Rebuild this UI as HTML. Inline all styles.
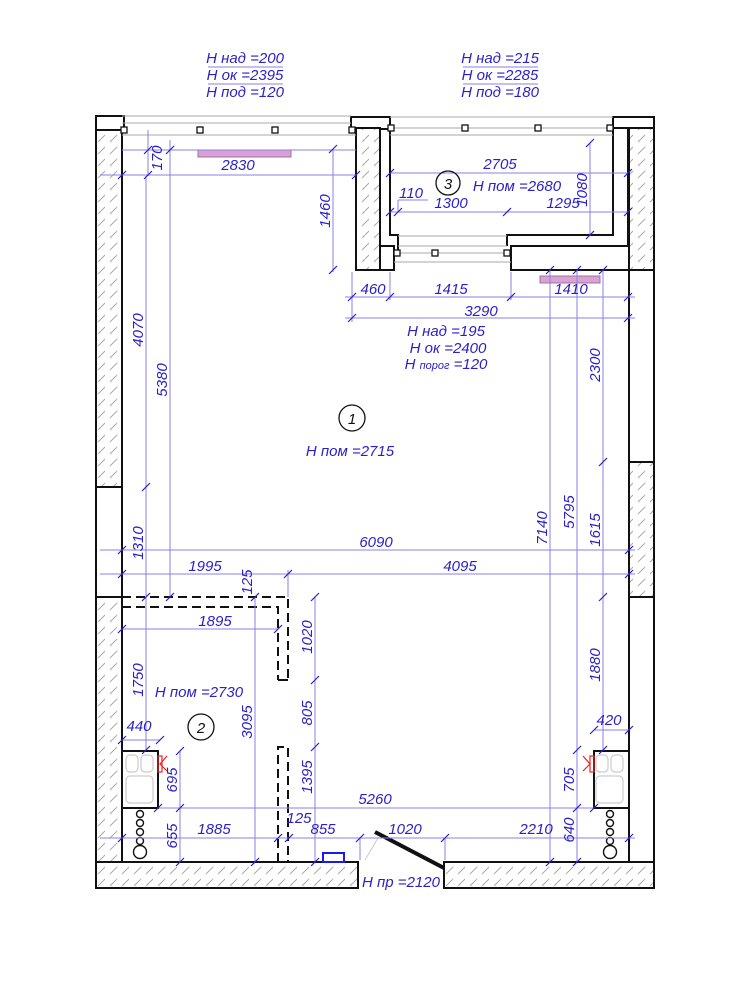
<!DOCTYPE html>
<html><head><meta charset="utf-8"><style>
html,body{margin:0;padding:0;background:#fff}
svg{display:block}
text{font-family:"Liberation Sans","DejaVu Sans",sans-serif;font-style:italic;fill:#2a1fc8;font-size:15px}
.d{stroke:#8a80ea;stroke-width:1;fill:none}
.t{stroke:#2a1fc4;stroke-width:1.2}
.w{stroke:#111;stroke-width:2;fill:#fff}
.h{stroke:#111;stroke-width:2;fill:url(#hat)}
.g{stroke:#aaa;stroke-width:1;fill:none}
</style></head><body>
<svg width="750" height="1000" viewBox="0 0 750 1000" xmlns="http://www.w3.org/2000/svg">
<defs>
<pattern id="hat" width="12" height="12" patternUnits="userSpaceOnUse">
<rect width="12" height="12" fill="#fff"/><line x1="2" y1="10" x2="9" y2="3" stroke="#aaa" stroke-width="1"/>
</pattern>
</defs>

<rect class="h" x="96" y="130" width="26" height="357"/>
<rect class="w" x="96" y="487" width="26" height="110"/>
<rect class="h" x="96" y="597" width="26" height="291"/>
<rect class="h" x="96" y="862" width="262" height="26"/>
<rect class="h" x="444" y="862" width="210" height="26"/>
<rect class="h" x="629" y="128" width="25" height="142"/>
<rect class="w" x="629" y="270" width="25" height="192"/>
<rect class="h" x="629" y="462" width="25" height="135"/>
<rect class="w" x="629" y="597" width="25" height="265"/>
<line x1="122" y1="130" x2="122" y2="862" stroke="#111" stroke-width="2"/>
<rect class="w" x="96" y="116" width="28" height="14"/>
<rect class="w" x="351" y="117" width="39" height="12"/>
<rect class="w" x="613" y="117" width="41" height="11"/>
<rect class="h" x="356" y="128" width="24" height="142"/>
<rect class="w" x="380" y="246" width="14" height="24"/>
<polyline points="390,128 390,235 398,235 398,250" fill="none" stroke="#111" stroke-width="2"/>
<polyline points="613,128 613,235 507,235 507,246" fill="none" stroke="#111" stroke-width="2"/>
<line x1="628" y1="128" x2="628" y2="270" stroke="#111" stroke-width="2"/>
<rect class="w" x="511" y="246" width="118" height="24"/>
<line class="g" x1="122" y1="116" x2="351" y2="116"/>
<line class="g" x1="122" y1="123" x2="351" y2="123"/>
<line class="g" x1="122" y1="135" x2="356" y2="135"/>
<line class="g" x1="390" y1="117" x2="613" y2="117"/>
<line class="g" x1="390" y1="128" x2="613" y2="128"/>
<line class="g" x1="390" y1="135" x2="613" y2="135"/>
<line class="g" x1="398" y1="236" x2="507" y2="236"/>
<line class="g" x1="398" y1="246" x2="507" y2="246"/>
<line class="g" x1="398" y1="253" x2="507" y2="253"/>
<line class="g" x1="394" y1="262" x2="511" y2="262"/>
<g fill="#fff" stroke="#111" stroke-width="1.3">
<rect x="121" y="127" width="6" height="6"/><rect x="197" y="127" width="6" height="6"/><rect x="272" y="127" width="6" height="6"/><rect x="349" y="127" width="6" height="6"/>
<rect x="388" y="125" width="6" height="6"/><rect x="462" y="125" width="6" height="6"/><rect x="535" y="125" width="6" height="6"/><rect x="607" y="125" width="6" height="6"/>
<rect x="394" y="250" width="6" height="6"/><rect x="432" y="250" width="6" height="6"/><rect x="504" y="250" width="6" height="6"/>
</g>
<rect x="198" y="150" width="93" height="7" fill="#d8a2d2" stroke="#a070a0"/>
<rect x="540" y="276" width="60" height="7" fill="#d8a2d2" stroke="#a070a0"/>
<g stroke="#111" stroke-width="2" fill="none" stroke-dasharray="9,5">
<polyline points="122,597 288,597 288,680"/>
<polyline points="122,607 278,607 278,680"/>
<polyline points="278,862 278,747 288,747 288,862"/>
</g>
<line x1="278" y1="680" x2="288" y2="680" stroke="#111" stroke-width="2"/>
<line x1="375" y1="832" x2="444" y2="868" stroke="#111" stroke-width="4"/>
<line x1="365" y1="860" x2="378" y2="838" stroke="#ccc" stroke-width="1"/>
<rect x="323" y="853" width="21" height="9" fill="#fff" stroke="#1a1aee" stroke-width="2"/>
<rect x="122" y="751" width="36" height="57" fill="#fff" stroke="#111" stroke-width="2"/>
<g fill="none" stroke="#ccc" stroke-width="1.2"><rect x="126" y="755" width="12" height="17" rx="4"/><rect x="141" y="755" width="12" height="17" rx="4"/><rect x="126" y="776" width="27" height="27" rx="4"/>
<rect x="596" y="755" width="12" height="17" rx="4"/><rect x="611" y="755" width="12" height="17" rx="4"/><rect x="596" y="776" width="27" height="27" rx="4"/></g>
<rect x="158" y="756" width="4" height="16" fill="none" stroke="#e22" stroke-width="1.2"/>
<polyline points="167,756 160,764 167,771" fill="none" stroke="#e22" stroke-width="1.2"/>
<g fill="#fff" stroke="#111" stroke-width="1.4"><circle cx="140" cy="814" r="3.5"/><circle cx="140" cy="823" r="3.5"/><circle cx="140" cy="832" r="3.5"/><circle cx="140" cy="841" r="3.5"/><circle cx="140" cy="852" r="6.5"/>
<circle cx="610" cy="814" r="3.5"/><circle cx="610" cy="823" r="3.5"/><circle cx="610" cy="832" r="3.5"/><circle cx="610" cy="841" r="3.5"/><circle cx="610" cy="852" r="6.5"/></g>
<rect x="594" y="751" width="35" height="57" fill="none" stroke="#111" stroke-width="2"/>
<rect x="590" y="756" width="4" height="16" fill="none" stroke="#e22" stroke-width="1.2"/>
<polyline points="583,756 590,764 583,771" fill="none" stroke="#e22" stroke-width="1.2"/>

<g class="d">
<line x1="100" y1="175" x2="356" y2="175"/>
<line x1="122" y1="150" x2="356" y2="150"/>
<line x1="148" y1="130" x2="148" y2="176"/>
<line x1="146" y1="176" x2="146" y2="750"/>
<line x1="170" y1="140" x2="170" y2="597"/>
<line x1="333" y1="149" x2="333" y2="272"/>
<line x1="390" y1="173" x2="628" y2="173"/>
<line x1="390" y1="212" x2="628" y2="212"/>
<line x1="590" y1="143" x2="590" y2="236"/>
<line x1="352" y1="272" x2="352" y2="322"/>
<line x1="390" y1="272" x2="390" y2="300"/>
<line x1="511" y1="272" x2="511" y2="300"/>
<line x1="345" y1="297" x2="635" y2="297"/>
<line x1="345" y1="318" x2="635" y2="318"/>
<line x1="550" y1="270" x2="550" y2="862"/>
<line x1="577" y1="270" x2="577" y2="862"/>
<line x1="603" y1="270" x2="603" y2="750"/>
<line x1="100" y1="550" x2="635" y2="550"/>
<line x1="100" y1="574" x2="635" y2="574"/>
<line x1="288" y1="570" x2="288" y2="597"/>
<line x1="122" y1="629" x2="278" y2="629"/>
<line x1="255" y1="597" x2="255" y2="862"/>
<line x1="315" y1="597" x2="315" y2="862"/>
<line x1="122" y1="740" x2="160" y2="740"/>
<line x1="180" y1="751" x2="180" y2="862"/>
<line x1="158" y1="808" x2="594" y2="808"/>
<line x1="100" y1="838" x2="635" y2="838"/>
<line x1="360" y1="838" x2="360" y2="860"/>
<line x1="445" y1="838" x2="445" y2="860"/>
<line x1="594" y1="730" x2="629" y2="730"/>
<line x1="398" y1="212" x2="398" y2="200"/>
<line x1="398" y1="200" x2="428" y2="200"/>
<line x1="208" y1="67" x2="283" y2="67"/><line x1="208" y1="84" x2="283" y2="84"/><line x1="463" y1="67" x2="538" y2="67"/><line x1="463" y1="84" x2="538" y2="84"/>
</g>
<g class="t">
<path d="M118,179 l8,-8 M352,179 l8,-8 M144,154 l8,-8 M144,179 l8,-8 M166,154 l8,-8 M329,153 l8,-8 M329,274 l8,-8
M386,177 l8,-8 M624,177 l8,-8 M386,216 l8,-8 M394,216 l8,-8 M503,216 l8,-8 M624,216 l8,-8 M586,147 l8,-8 M586,239 l8,-8
M348,301 l8,-8 M386,301 l8,-8 M507,301 l8,-8 M624,301 l8,-8 M348,322 l8,-8 M624,322 l8,-8
M546,274 l8,-8 M573,274 l8,-8 M599,274 l8,-8 M599,466 l8,-8 M599,601 l8,-8 M599,754 l8,-8 M573,754 l8,-8 M573,812 l8,-8 M573,866 l8,-8 M546,866 l8,-8
M142,491 l8,-8 M142,601 l8,-8 M142,754 l8,-8 M166,601 l8,-8 M118,554 l8,-8 M625,554 l8,-8 M118,578 l8,-8 M284,578 l8,-8 M625,578 l8,-8
M118,633 l8,-8 M274,633 l8,-8 M251,601 l8,-8 M251,866 l8,-8 M311,601 l8,-8 M311,684 l8,-8 M311,751 l8,-8 M311,866 l8,-8
M118,744 l8,-8 M156,744 l8,-8 M176,755 l8,-8 M176,812 l8,-8 M176,866 l8,-8 M154,812 l8,-8 M590,812 l8,-8
M118,842 l8,-8 M274,842 l8,-8 M285,842 l8,-8 M356,842 l8,-8 M441,842 l8,-8 M625,842 l8,-8 M590,734 l8,-8 M625,734 l8,-8"/>
</g>
<g>
<text x="238" y="170" text-anchor="middle">2830</text>
<text transform="translate(162,158) rotate(-90)" text-anchor="middle">170</text>
<text transform="translate(330,211) rotate(-90)" text-anchor="middle">1460</text>
<text transform="translate(143,330) rotate(-90)" text-anchor="middle">4070</text>
<text transform="translate(167,380) rotate(-90)" text-anchor="middle">5380</text>
<text transform="translate(143,543) rotate(-90)" text-anchor="middle">1310</text>
<text x="500" y="169" text-anchor="middle">2705</text>
<text x="517" y="191" text-anchor="middle">H пом =2680</text>
<text transform="translate(587,190) rotate(-90)" text-anchor="middle">1080</text>
<text x="411" y="198" text-anchor="middle">110</text>
<text x="451" y="208" text-anchor="middle">1300</text>
<text x="563" y="208" text-anchor="middle">1295</text>
<text x="373" y="294" text-anchor="middle">460</text>
<text x="451" y="294" text-anchor="middle">1415</text>
<text x="571" y="294" text-anchor="middle">1410</text>
<text x="481" y="316" text-anchor="middle">3290</text>
<text x="446" y="336" text-anchor="middle">H над =195</text>
<text x="448" y="353" text-anchor="middle">H ок =2400</text>
<text x="446" y="369" text-anchor="middle">H <tspan font-size="11">порог</tspan> =120</text>
<text x="350" y="456" text-anchor="middle">H пом =2715</text>
<text transform="translate(600,365) rotate(-90)" text-anchor="middle">2300</text>
<text transform="translate(574,512) rotate(-90)" text-anchor="middle">5795</text>
<text transform="translate(547,528) rotate(-90)" text-anchor="middle">7140</text>
<text transform="translate(600,530) rotate(-90)" text-anchor="middle">1615</text>
<text transform="translate(600,665) rotate(-90)" text-anchor="middle">1880</text>
<text x="376" y="547" text-anchor="middle">6090</text>
<text x="205" y="571" text-anchor="middle">1995</text>
<text x="460" y="571" text-anchor="middle">4095</text>
<text transform="translate(252,582) rotate(-90)" text-anchor="middle">125</text>
<text x="215" y="626" text-anchor="middle">1895</text>
<text transform="translate(312,637) rotate(-90)" text-anchor="middle">1020</text>
<text transform="translate(312,713) rotate(-90)" text-anchor="middle">805</text>
<text transform="translate(312,777) rotate(-90)" text-anchor="middle">1395</text>
<text transform="translate(252,722) rotate(-90)" text-anchor="middle">3095</text>
<text transform="translate(143,680) rotate(-90)" text-anchor="middle">1750</text>
<text x="199" y="697" text-anchor="middle">H пом =2730</text>
<text x="139" y="731" text-anchor="middle">440</text>
<text transform="translate(177,780) rotate(-90)" text-anchor="middle">695</text>
<text transform="translate(177,836) rotate(-90)" text-anchor="middle">655</text>
<text x="375" y="804" text-anchor="middle">5260</text>
<text x="214" y="834" text-anchor="middle">1885</text>
<text x="299" y="823" text-anchor="middle">125</text>
<text x="323" y="834" text-anchor="middle">855</text>
<text x="405" y="834" text-anchor="middle">1020</text>
<text x="536" y="834" text-anchor="middle">2210</text>
<text transform="translate(574,830) rotate(-90)" text-anchor="middle">640</text>
<text transform="translate(574,780) rotate(-90)" text-anchor="middle">705</text>
<text x="609" y="725" text-anchor="middle">420</text>
<text x="401" y="887" text-anchor="middle">H пр =2120</text>
<text x="245" y="63" text-anchor="middle">H над =200</text>
<text x="245" y="80" text-anchor="middle">H ок =2395</text>
<text x="245" y="97" text-anchor="middle">H под =120</text>
<text x="500" y="63" text-anchor="middle">H над =215</text>
<text x="500" y="80" text-anchor="middle">H ок =2285</text>
<text x="500" y="97" text-anchor="middle">H под =180</text>
</g>
<g fill="none" stroke="#111" stroke-width="1.3">
<circle cx="352" cy="418" r="13"/><circle cx="201" cy="727" r="13"/><circle cx="448" cy="183" r="12"/>
</g>
<g style="font-size:15px">
<text x="352" y="424" text-anchor="middle" style="fill:#111">1</text>
<text x="201" y="733" text-anchor="middle" style="fill:#111">2</text>
<text x="448" y="189" text-anchor="middle" style="fill:#111">3</text>
</g>
</svg>
</body></html>
